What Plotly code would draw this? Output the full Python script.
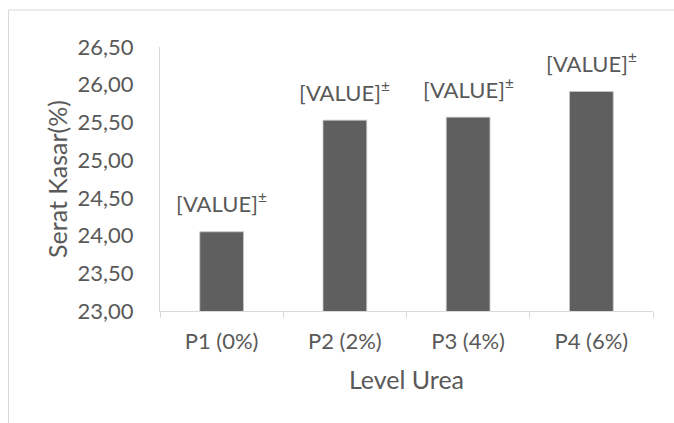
import plotly.graph_objects as go

categories = ["P1 (0%)", "P2 (2%)", "P3 (4%)", "P4 (6%)"]
values = [24.05, 25.53, 25.57, 25.91]
labels = ["[VALUE]<sup>±</sup>"] * 4
y_title = "Serat Kasar(%)"
x_title = "Level Urea"

FONT = "Lato"
TXT = "#595959"
LINE = "#d9d9d9"

fig = go.Figure()
fig.add_trace(go.Bar(
    x=categories, y=values,
    marker=dict(color="#5f5f5f", line=dict(color="#c8c8c8", width=0.8)),
    width=0.355,
    hoverinfo="skip",
))

for c, v, t in zip(categories, values, labels):
    fig.add_annotation(x=c, y=v, text=t, showarrow=False, xanchor="center",
                       yanchor="middle", yshift=29,
                       font=dict(family=FONT, size=22, color=TXT))

W, H = 674, 423
L, R, T, B = 160, 21, 47, 112
pw, ph = W - L - R, H - T - B

def px(x):
    return (x - L) / pw

def py(y):
    return (H - B - y) / ph

fig.add_shape(type="line", xref="paper", yref="paper",
              x0=px(8.5), x1=px(8.5), y0=py(430), y1=py(10),
              line=dict(color=LINE, width=1))
fig.add_shape(type="line", xref="paper", yref="paper",
              x0=px(8.5), x1=px(680), y0=py(10), y1=py(10),
              line=dict(color=LINE, width=1))

fig.update_layout(
    width=W, height=H,
    margin=dict(l=L, r=R, t=T, b=B, pad=0),
    paper_bgcolor="white", plot_bgcolor="white",
    separators=",.",
    showlegend=False,
    font=dict(family=FONT, color=TXT),
)
fig.update_xaxes(
    showline=True, linecolor=LINE, linewidth=1,
    ticks="outside", tickson="boundaries", ticklen=6, tickcolor=LINE,
    showgrid=False, zeroline=False,
    tickfont=dict(family=FONT, size=22, color=TXT),
    ticklabelstandoff=11,
    title=dict(text=x_title, font=dict(family=FONT, size=25, color=TXT), standoff=18),
)
fig.update_yaxes(
    range=[23, 26.5], dtick=0.5, tick0=23, tickformat=".2f",
    showline=True, linecolor=LINE, linewidth=1,
    ticks="", showgrid=False, zeroline=False,
    tickfont=dict(family=FONT, size=22, color=TXT),
    ticklabelstandoff=21,
    title=dict(text=y_title, font=dict(family=FONT, size=25, color=TXT), standoff=2),
)

fig.write_html("out.html")
